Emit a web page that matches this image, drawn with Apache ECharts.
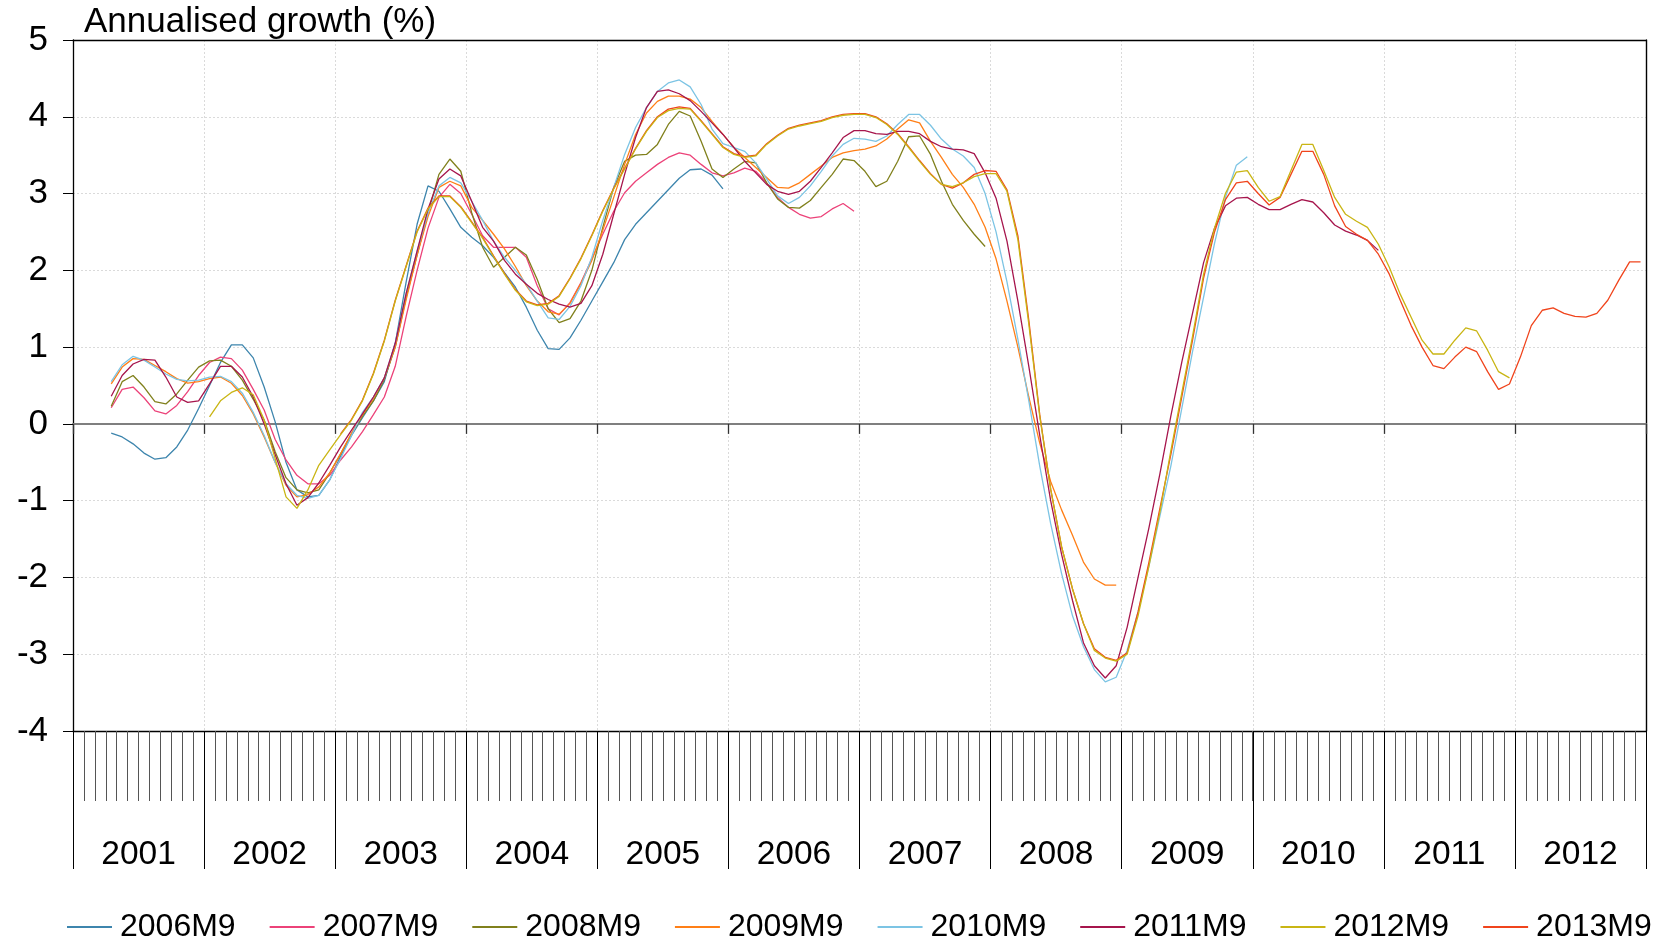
<!DOCTYPE html>
<html>
<head>
<meta charset="utf-8">
<script src="https://cdn.jsdelivr.net/npm/echarts@6/dist/echarts.min.js"></script>
<style>
html,body{margin:0;padding:0;background:#fff;}
#chart{width:1660px;height:942px;}
</style>
</head>
<body>
<div id="chart"></div>
<script>
// ---------- DATA ----------
const years = ['2001','2002','2003','2004','2005','2006','2007','2008','2009','2010','2011','2012'];
const seriesNames = ['2006M9','2007M9','2008M9','2009M9','2010M9','2011M9','2012M9','2013M9'];
const seriesColors = ['#3D85AD','#EC4279','#80801C','#FF7F17','#7CC4E4','#A6154C','#C9B514','#F0441C'];
// first month index (0 = Jan 2001) of each vintage
const seriesStart = [3, 3, 3, 3, 3, 3, 12, 24];
const yTicks = { min: -4, max: 5, step: 1 };

const v2006M9 = [
  -0.12,-0.17,-0.26,-0.38,-0.46,-0.44,-0.30,-0.08,0.20,
  0.50,0.80,1.03,1.03,0.86,0.48,0.03,-0.50,-0.86,-0.95,-0.93,-0.73,
  -0.42,-0.15,0.08,0.30,0.55,1.05,1.85,2.60,3.10,3.03,2.80,2.56,
  2.43,2.32,2.17,1.97,1.78,1.52,1.22,0.98,0.97,1.12,1.35,1.60,
  1.85,2.10,2.40,2.60,2.75,2.90,3.05,3.20,3.31,3.32,3.24,3.06
];
const v2007M9 = [
  0.21,0.45,0.48,0.34,0.17,0.13,0.24,0.42,0.63,
  0.80,0.87,0.85,0.70,0.45,0.18,-0.20,-0.47,-0.67,-0.78,-0.78,-0.67,
  -0.47,-0.30,-0.10,0.12,0.35,0.75,1.40,2.00,2.55,2.95,3.12,3.00,
  2.73,2.45,2.30,2.30,2.30,2.17,1.80,1.50,1.42,1.58,1.84,2.15,
  2.47,2.77,3.01,3.16,3.27,3.38,3.47,3.53,3.50,3.38,3.27,3.23,
  3.27,3.33,3.29,3.14,2.95,2.82,2.73,2.68,2.70,2.80,2.87,2.77
];
const v2008M9 = [
  0.23,0.55,0.63,0.48,0.29,0.26,0.39,0.57,0.74,
  0.82,0.83,0.75,0.57,0.32,0.05,-0.36,-0.70,-0.86,-0.90,-0.86,-0.64,
  -0.39,-0.13,0.10,0.30,0.58,1.00,1.65,2.20,2.75,3.25,3.45,3.29,
  2.75,2.30,2.04,2.17,2.30,2.20,1.88,1.50,1.32,1.37,1.60,2.00,
  2.56,3.08,3.42,3.50,3.51,3.64,3.90,4.07,4.01,3.68,3.32,3.21,
  3.32,3.42,3.40,3.14,2.93,2.82,2.81,2.91,3.08,3.25,3.45,3.43,
  3.29,3.09,3.16,3.42,3.74,3.75,3.51,3.16,2.86,2.65,2.47,2.31
];
const v2009M9 = [
  0.52,0.74,0.85,0.84,0.76,0.68,0.59,0.53,0.55,
  0.59,0.61,0.53,0.37,0.13,-0.17,-0.50,-0.80,-0.95,-0.92,-0.82,-0.64,
  -0.39,-0.12,0.12,0.33,0.60,1.00,1.62,2.20,2.70,3.08,3.16,3.10,
  2.82,2.65,2.47,2.28,2.05,1.80,1.60,1.46,1.43,1.57,1.83,2.13,
  2.52,2.95,3.38,3.77,4.05,4.20,4.27,4.27,4.23,4.12,3.94,3.77,
  3.60,3.47,3.34,3.21,3.08,3.07,3.14,3.25,3.36,3.47,3.53,3.56,
  3.58,3.62,3.71,3.84,3.96,3.92,3.68,3.47,3.25,3.08,2.86,2.56,
  2.15,1.60,1.00,0.35,-0.25,-0.75,-1.12,-1.45,-1.80,-2.02,-2.10,-2.10
];
const v2010M9 = [
  0.55,0.77,0.88,0.83,0.74,0.65,0.58,0.56,0.57,
  0.61,0.62,0.55,0.40,0.15,-0.15,-0.50,-0.78,-0.93,-0.97,-0.93,-0.73,
  -0.45,-0.15,0.15,0.35,0.60,1.05,1.70,2.25,2.75,3.10,3.21,3.14,
  2.90,2.65,2.38,2.17,2.00,1.82,1.60,1.38,1.36,1.53,1.80,2.17,
  2.65,3.08,3.51,3.86,4.12,4.33,4.44,4.48,4.39,4.16,3.84,3.65,
  3.60,3.55,3.40,3.19,2.97,2.87,2.95,3.10,3.29,3.49,3.64,3.72,
  3.71,3.68,3.75,3.90,4.03,4.03,3.89,3.71,3.58,3.49,3.34,3.00,
  2.50,1.85,1.10,0.30,-0.55,-1.30,-1.95,-2.50,-2.90,-3.20,-3.36,-3.30,
  -2.95,-2.45,-1.85,-1.20,-0.55,0.20,0.95,1.65,2.35,2.95,3.37,3.48
];
const v2011M9 = [
  0.36,0.63,0.78,0.84,0.83,0.61,0.35,0.28,0.30,
  0.52,0.75,0.75,0.61,0.35,0.00,-0.40,-0.78,-1.06,-0.96,-0.77,-0.54,
  -0.30,-0.08,0.13,0.35,0.60,1.05,1.70,2.25,2.80,3.19,3.32,3.23,
  2.90,2.56,2.38,2.13,1.95,1.82,1.70,1.62,1.56,1.52,1.57,1.80,
  2.21,2.73,3.25,3.73,4.12,4.33,4.35,4.30,4.21,4.07,3.92,3.77,
  3.60,3.42,3.27,3.12,3.03,2.99,3.03,3.16,3.34,3.53,3.73,3.82,
  3.82,3.78,3.77,3.81,3.81,3.78,3.68,3.61,3.58,3.57,3.52,3.27,
  2.94,2.38,1.60,0.75,-0.15,-1.00,-1.70,-2.30,-2.85,-3.15,-3.31,-3.15,
  -2.65,-2.00,-1.35,-0.65,0.10,0.80,1.45,2.10,2.55,2.84,2.94,2.95,
  2.86,2.79,2.79,2.86,2.92,2.89,2.75,2.59,2.51,2.46,2.39,2.26
];
const v2012M9 = [
  0.09,0.30,0.41,0.47,0.38,0.05,-0.45,-0.95,-1.10,-0.86,-0.54,-0.34,
  -0.14,0.05,0.30,0.65,1.08,1.60,2.05,2.50,2.80,2.96,2.96,2.82,
  2.62,2.42,2.18,1.95,1.74,1.59,1.54,1.56,1.66,1.89,2.15,2.45,
  2.77,3.06,3.32,3.58,3.81,3.99,4.08,4.11,4.10,3.94,3.77,3.60,
  3.51,3.47,3.49,3.64,3.75,3.84,3.88,3.91,3.94,3.99,4.02,4.03,
  4.03,3.99,3.90,3.77,3.60,3.42,3.25,3.12,3.09,3.14,3.22,3.26,
  3.26,3.03,2.40,1.30,0.10,-0.85,-1.60,-2.15,-2.60,-2.95,-3.05,-3.09,
  -3.00,-2.50,-1.85,-1.15,-0.35,0.40,1.15,1.95,2.55,3.00,3.28,3.30,
  3.08,2.90,2.96,3.30,3.64,3.64,3.30,2.95,2.73,2.64,2.56,2.34,
  2.04,1.69,1.39,1.09,0.91,0.91,1.09,1.25,1.21,0.96,0.68,0.60
];
const v2013M9 = [
  -0.13,0.06,0.31,0.66,1.09,1.61,2.06,2.51,2.81,2.97,2.97,2.83,
  2.63,2.43,2.19,1.96,1.75,1.60,1.55,1.57,1.67,1.90,2.16,2.46,
  2.78,3.07,3.33,3.59,3.82,4.00,4.10,4.13,4.11,3.95,3.78,3.61,
  3.52,3.48,3.50,3.65,3.76,3.85,3.89,3.92,3.95,4.00,4.03,4.04,
  4.04,4.00,3.91,3.78,3.61,3.43,3.26,3.12,3.07,3.14,3.25,3.30,
  3.29,3.05,2.45,1.35,0.12,-0.85,-1.60,-2.15,-2.60,-2.93,-3.04,-3.08,
  -2.98,-2.45,-1.80,-1.10,-0.40,0.35,1.10,1.90,2.50,2.92,3.14,3.16,
  3.00,2.85,2.95,3.25,3.55,3.55,3.25,2.84,2.57,2.47,2.39,2.21,
  1.95,1.61,1.28,1.00,0.76,0.72,0.87,1.00,0.94,0.68,0.45,0.52,
  0.87,1.28,1.48,1.51,1.44,1.40,1.39,1.44,1.61,1.87,2.11,2.11
];
const seriesValues = [v2006M9, v2007M9, v2008M9, v2009M9, v2010M9, v2011M9, v2012M9, v2013M9];
// drawing order (higher = on top)
const seriesZ = [3, 4, 5, 6, 7, 8, 11, 10];

// ---------- BUILD ----------
const months = [];
years.forEach(y => { for (let m = 1; m <= 12; m++) months.push(y + 'M' + m); });

function pad(start, vals) {
  const a = new Array(months.length).fill(null);
  vals.forEach((v, i) => { a[start + i] = v; });
  return a;
}

const FONT = '"Liberation Sans", Arial, Helvetica, sans-serif';
const chart = echarts.init(document.getElementById('chart'), null, { renderer: 'canvas' });

const option = {
  animation: false,
  backgroundColor: '#ffffff',
  textStyle: { fontFamily: FONT },
  grid: { left: 73, right: 14, top: 40, bottom: 211, show: false },
  graphic: [{
    type: 'text', left: 84, top: 5, silent: true,
    style: { text: 'Annualised growth (%)', fontSize: 35, fontFamily: FONT, fill: '#000' }
  }],
  legend: {
    left: 62, top: 906, itemWidth: 45, itemHeight: 2, itemGap: 34, icon: 'rect',
    selectedMode: false,
    textStyle: { fontSize: 32, color: '#000', fontFamily: FONT, padding: [0, 0, 0, 3] },
    data: seriesNames
  },
  xAxis: [
    {
      type: 'category', data: months, boundaryGap: true, position: 'bottom',
      axisLine: { show: true, onZero: false, lineStyle: { color: '#000', width: 1.4 } },
      axisTick: { show: true, interval: 0, length: 70, lineStyle: { color: '#555', width: 1 } },
      axisLabel: { show: false },
      splitLine: { show: false }
    },
    {
      type: 'category', data: years, boundaryGap: true, position: 'bottom',
      axisLine: { show: false, onZero: false },
      axisTick: { show: true, interval: 0, length: 138, lineStyle: { color: '#000', width: 1 } },
      axisLabel: { show: true, interval: 0, fontSize: 33.5, color: '#000', margin: 107, fontFamily: FONT },
      splitLine: { show: true, interval: 0, lineStyle: { color: '#dadada', width: 1, type: [2, 2] } }
    },
    {
      type: 'category', data: years, boundaryGap: true, position: 'bottom',
      axisLine: { show: true, onZero: true, onZeroAxisIndex: 0, lineStyle: { color: '#7f7f7f', width: 2 } },
      axisTick: { show: true, interval: 0, length: 10, lineStyle: { color: '#333', width: 1.3 } },
      axisLabel: { show: false },
      splitLine: { show: false }
    },
    {
      type: 'category', data: years, boundaryGap: true, position: 'top',
      axisLine: { show: true, onZero: false, lineStyle: { color: '#000', width: 1.4 } },
      axisTick: { show: false }, axisLabel: { show: false }, splitLine: { show: false }
    }
  ],
  yAxis: [
    {
      type: 'value', min: yTicks.min, max: yTicks.max, interval: yTicks.step, position: 'left',
      axisLine: { show: true, onZero: false, lineStyle: { color: '#000', width: 1.3 } },
      axisTick: { show: true, length: 10, lineStyle: { color: '#000', width: 1 } },
      axisLabel: { fontSize: 35, color: '#000', margin: 25, fontFamily: FONT },
      splitLine: { show: true, lineStyle: { color: '#dadada', width: 1, type: [2, 2] } }
    },
    {
      type: 'value', min: yTicks.min, max: yTicks.max, interval: yTicks.step, position: 'right',
      axisLine: { show: true, onZero: false, lineStyle: { color: '#000', width: 1.4 } },
      axisTick: { show: false }, axisLabel: { show: false }, splitLine: { show: false }
    }
  ],
  series: seriesNames.map((name, k) => ({
    name: name, type: 'line', xAxisIndex: 0, yAxisIndex: 0,
    data: pad(seriesStart[k], seriesValues[k]),
    symbol: 'none', showSymbol: false, connectNulls: false, silent: true,
    lineStyle: { color: seriesColors[k], width: 1.3 },
    itemStyle: { color: seriesColors[k] },
    emphasis: { disabled: true },
    z: seriesZ[k]
  }))
};
chart.setOption(option);
</script>
</body>
</html>
